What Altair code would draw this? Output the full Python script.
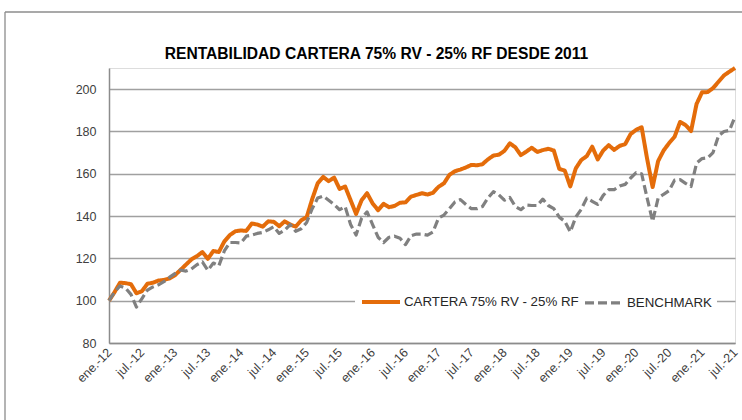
import altair as alt
import pandas as pd

TITLE = "RENTABILIDAD CARTERA 75% RV - 25% RF DESDE 2011"
SERIES = ["CARTERA 75% RV - 25% RF", "BENCHMARK"]
COLORS = ["#E46C0A", "#808080"]
TICK_LABELS = ["ene.-12", "jul.-12", "ene.-13", "jul.-13", "ene.-14", "jul.-14",
               "ene.-15", "jul.-15", "ene.-16", "jul.-16", "ene.-17", "jul.-17",
               "ene.-18", "jul.-18", "ene.-19", "jul.-19", "ene.-20", "jul.-20",
               "ene.-21", "jul.-21"]
Y_TICKS = [80, 100, 120, 140, 160, 180, 200]

CARTERA = [100, 104, 108.5, 108.3, 107.8, 103.5, 104.5, 108, 108.5, 109.5,
           109.8, 110.5, 112, 114.5, 117, 119.5, 121, 123, 119.8, 123.5,
           123, 128, 131, 132.8, 133.2, 133, 136.5, 136, 135, 137.5,
           137.3, 135.2, 137.5, 136, 135, 138, 139.5, 148, 155.5, 158.5,
           156.5, 158.2, 152.8, 154, 147.5, 141, 147.5, 150.8, 146, 142.8,
           145.8, 144.2, 144.8, 146.3, 146.5, 149.2, 150, 150.8, 150.2, 151,
           153.8, 155.5, 159.5, 161.2, 162, 163, 164.2, 164, 164.5, 166.8,
           168.6, 169, 170.8, 174.4, 172.5, 168.8, 170.5, 172.3, 170.3, 171.2,
           171.8, 171, 162.3, 161.5, 154, 162.5, 166.5, 168.3, 172.8, 166.8,
           171, 173.5, 171.3, 173.2, 174, 178.8, 180.8, 182, 167, 153.7,
           166, 171, 174.5, 177.5, 184.5, 183, 180.2, 193, 198.5, 198.6,
           200.5, 203.5, 206.5, 208.3, 210]

BENCHMARK = [100, 104, 107, 106, 103, 97, 101, 105, 106.5, 107.5,
             109, 111, 112.8, 114.5, 114, 115, 117, 118.3, 114.3, 117.8,
             116.5, 123.5, 127.5, 127.5, 127.3, 130.5, 131, 131.8, 132.3, 133.5,
             135, 131.8, 133.3, 136, 132.8, 134, 137, 143.5, 148.5, 149.5,
             147.5, 145.5, 143, 144.5, 136, 131, 139, 142, 136, 130,
             127.5, 130, 130.5, 129.5, 126.5, 130.7, 131.5, 131.5, 131, 132.5,
             139, 140.5, 143.5, 146.7, 147.8, 145.5, 143.5, 143.5, 144.5, 148.5,
             151.5, 150, 147.5, 148.8, 144.5, 143, 145.2, 145, 145, 148,
             145, 143.5, 139.5, 137.5, 132.5, 139.5, 143.2, 148.5, 147, 145.5,
             149.8, 152.5, 152.5, 154.2, 155, 158, 160.5, 160, 148.5, 137.5,
             148.5, 150.3, 152, 157, 157.2, 155.5, 154, 165, 167.2, 167.5,
             170, 178, 180, 180.5, 187]

n = len(CARTERA)
rows = []
for s, vals in zip(SERIES, [CARTERA, BENCHMARK]):
    for i, v in enumerate(vals):
        rows.append({"i": i, "s": s, "v": v})
df = pd.DataFrame(rows)

FONT = "Liberation Sans, Arial, sans-serif"
label_expr = "[" + ",".join("'%s'" % t for t in TICK_LABELS) + "][round(datum.value/6)]"

W, H = 626, 275

lines = alt.Chart(df).mark_line(strokeJoin="round").encode(
    x=alt.X("i:Q", scale=alt.Scale(domain=[0, n - 1], nice=False, zero=False),
            axis=alt.Axis(values=list(range(0, n, 6)), labelExpr=label_expr,
                          labelAngle=315, labelAlign="right", labelBaseline="middle",
                          labelPadding=7, ticks=False, tickSize=0, grid=False,
                          domainColor="#8c8c8c", domainWidth=1.5, title=None,
                          labelFont=FONT, labelFontSize=12.5, labelColor="#404040",
                          labelOverlap=False)),
    y=alt.Y("v:Q", scale=alt.Scale(domain=[80, 210], nice=False, zero=False),
            axis=alt.Axis(values=Y_TICKS, grid=True, gridColor="#a0a0a0", gridWidth=1.3,
                          ticks=False, tickSize=0, labelPadding=13, domainColor="#8c8c8c",
                          domainWidth=1.5, title=None, labelFont=FONT, labelFontSize=12.5,
                          labelColor="#404040")),
    color=alt.Color("s:N", sort=SERIES, scale=alt.Scale(domain=SERIES, range=COLORS),
                    legend=alt.Legend(title=None, orient="none", legendX=246, legendY=208,
                                      direction="horizontal", fillColor="white",
                                      padding=5, symbolSize=1444, symbolType="stroke",
                                      labelFont=FONT, labelFontSize=13.3, labelColor="#262626",
                                      labelOffset=2, columnPadding=-2, labelLimit=0)),
    strokeDash=alt.StrokeDash("s:N", sort=SERIES,
                              scale=alt.Scale(domain=SERIES, range=[[1, 0], [9, 4]]),
                              legend=alt.Legend(title=None)),
    strokeWidth=alt.StrokeWidth("s:N", sort=SERIES,
                                scale=alt.Scale(domain=SERIES, range=[4, 3.2]),
                                legend=alt.Legend(title=None)),
)

frame_df = pd.DataFrame({"a": [0]})
top_rule = alt.Chart(frame_df).mark_rule(color="#8c8c8c", strokeWidth=1.3).encode(
    x=alt.value(-104), x2=alt.value(W + 20), y=alt.value(-56))
left_rule = alt.Chart(frame_df).mark_rule(color="#8c8c8c", strokeWidth=1.3).encode(
    x=alt.value(-104), y=alt.value(-56), y2=alt.value(H + 90))

title_df = pd.DataFrame({"t": [TITLE]})
title = alt.Chart(title_df).mark_text(font=FONT, fontSize=15.6, fontWeight="bold",
                                      color="#000000", align="center",
                                      baseline="alphabetic").encode(
    text="t:N", x=alt.value(267.5), y=alt.value(-9))

chart = alt.layer(top_rule, left_rule, title, lines).properties(
    width=W, height=H,
    autosize=alt.AutoSizeParams(type="none"),
    padding={"left": 109, "top": 68, "right": 7, "bottom": 77},
).configure_view(stroke=None).configure(background="white")

chart.save("out.html", embed_options={"renderer": "svg", "actions": False})
